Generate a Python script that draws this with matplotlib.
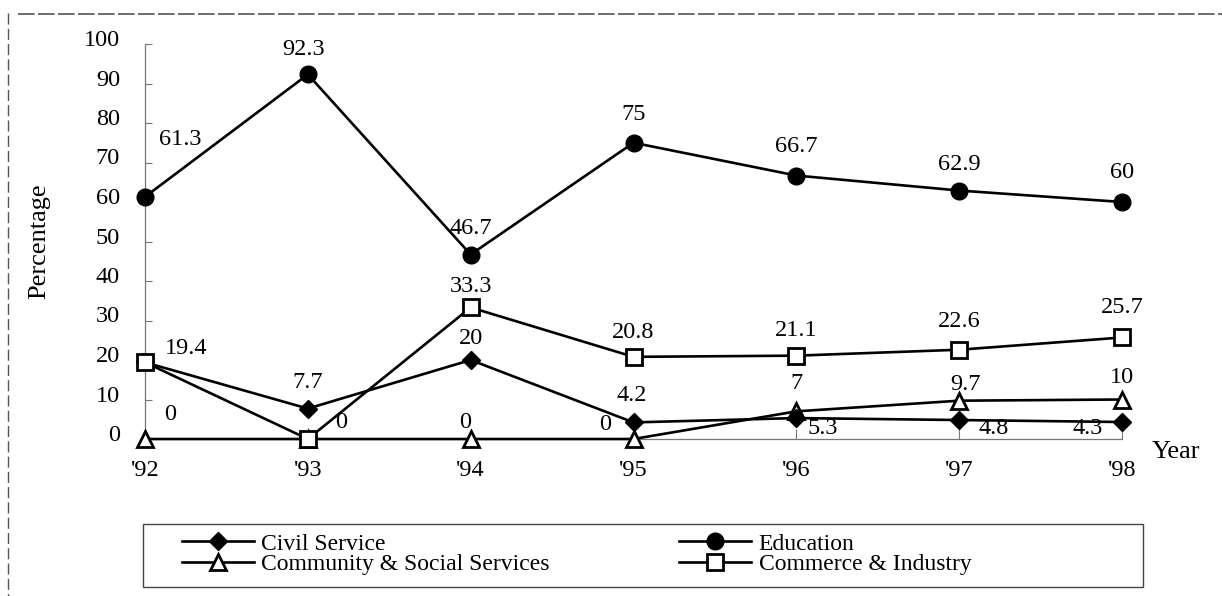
import matplotlib
matplotlib.use("Agg")
import matplotlib.pyplot as plt
from matplotlib.lines import Line2D
from matplotlib.patches import Rectangle
from matplotlib.transforms import ScaledTranslation

years = ["'92", "'93", "'94", "'95", "'96", "'97", "'98"]
civil_service = [19.4, 7.7, 20, 4.2, 5.3, 4.8, 4.3]
education = [61.3, 92.3, 46.7, 75, 66.7, 62.9, 60]
community = [0, 0, 0, 0, 7, 9.7, 10]
commerce = [19.4, 0, 33.3, 20.8, 21.1, 22.6, 25.7]
yticks = [0, 10, 20, 30, 40, 50, 60, 70, 80, 90, 100]

# label offsets in pixels (dx, dy; dy positive = up)
edu_off = [(35, 57), (-4, 25), (0, 26), (0, 28), (0, 29), (0, 26), (0, 29)]
civ_off = [None, (0, 26), (0, 22), (-2, 27), (26, -10), (34, -8), (-34, -6)]
com_off = [(25, 24), (33, 16), (-6, 16), (-28, 14), (0, 28), (6, 16), (0, 22)]
cmi_off = [(41, 14), None, (0, 21), (0, 24), (0, 25), (0, 28), (0, 30)]

FONT = "Liberation Serif"
plt.rcParams["font.family"] = FONT

fig = plt.figure(figsize=(12.22, 5.96), dpi=100)
W, H = 1222, 596
ax = fig.add_axes([145 / W, 157 / H, 977 / W, 395 / H])

x = list(range(len(years)))
lw = 1.9
ax.plot(x, community, color="black", lw=lw, marker="^", ms=12, mfc="white",
        mec="black", mew=2, clip_on=False, zorder=3, label="Community & Social Services")
ax.plot(x, civil_service, color="black", lw=lw, marker="D", ms=9, mfc="black",
        mec="black", clip_on=False, zorder=4, label="Civil Service")
ax.plot(x, commerce, color="black", lw=lw, marker="s", ms=11, mfc="white",
        mec="black", mew=2, clip_on=False, zorder=4, label="Commerce & Industry")
ax.plot(x, education, color="black", lw=lw, marker="o", ms=12, mfc="black",
        mec="black", clip_on=False, zorder=4, label="Education")

fs = 17.5
def lab(vals, offs):
    for i, (v, o) in enumerate(zip(vals, offs)):
        if o is None:
            continue
        txt = f"{v:g}"
        ax.annotate(txt, (i, v), xytext=(o[0] * 0.72, o[1] * 0.72),
                    textcoords="offset points", ha="center", va="center",
                    fontsize=fs, zorder=6, annotation_clip=False)

lab(education, edu_off)
lab(civil_service, civ_off)
lab(community, com_off)
lab(commerce, cmi_off)

ax.set_xlim(0, 6)
ax.set_ylim(0, 100)
ax.set_xticks(x)
ax.set_xticklabels(years, fontsize=fs)
ax.set_yticks(yticks)
ax.set_yticklabels([str(t) for t in yticks], fontsize=fs)
ax.tick_params(axis="y", direction="in", length=5, width=0.8, color="#777777", pad=18)
ax.tick_params(axis="x", direction="in", length=7, width=0.8, color="#777777", pad=15)
for lbl in ax.get_yticklabels():
    lbl.set_transform(lbl.get_transform() + ScaledTranslation(0, 0.06, fig.dpi_scale_trans))

for s in ["top", "right"]:
    ax.spines[s].set_visible(False)
for s in ["left", "bottom"]:
    ax.spines[s].set_color("#777777")
    ax.spines[s].set_linewidth(0.9)
    ax.spines[s].set_linestyle((0, (6, 1)))

ax.set_ylabel("Percentage", fontsize=19)
ax.yaxis.set_label_coords(-(145 - 50) / 977, 0.5)
ax.annotate("Year", (1, 0), xycoords="axes fraction", xytext=(30 * 0.72, -13 * 0.72),
            textcoords="offset points", ha="left", va="center", fontsize=19)

# legend
handles_order = ["Civil Service", "Community & Social Services", "Education", "Commerce & Industry"]
hmap = {h.get_label(): h for h in ax.get_lines()}
leg = fig.legend([hmap[k] for k in handles_order], handles_order, ncol=2,
                 loc="upper left", bbox_to_anchor=(182 / W, 1 - 533 / H),
                 frameon=False, fontsize=17, borderpad=0, borderaxespad=0,
                 handlelength=3.05, handletextpad=0.3, columnspacing=5.5,
                 labelspacing=-0.05)
fig.add_artist(Rectangle((143 / W, 9 / H), 1000 / W, 63 / H, transform=fig.transFigure,
                         fill=False, ec="#444444", lw=1.0))

# scanned page border fragments
fig.add_artist(Line2D([8 / W, 8 / W], [1 - 13 / H, 0], transform=fig.transFigure,
                      color="#555555", lw=1.0, ls=(0, (8, 3))))
fig.add_artist(Line2D([18 / W, 1], [1 - 14 / H, 1 - 14 / H], transform=fig.transFigure,
                      color="#555555", lw=1.2, ls=(0, (10, 2))))

fig.savefig("out.png", dpi=100)
